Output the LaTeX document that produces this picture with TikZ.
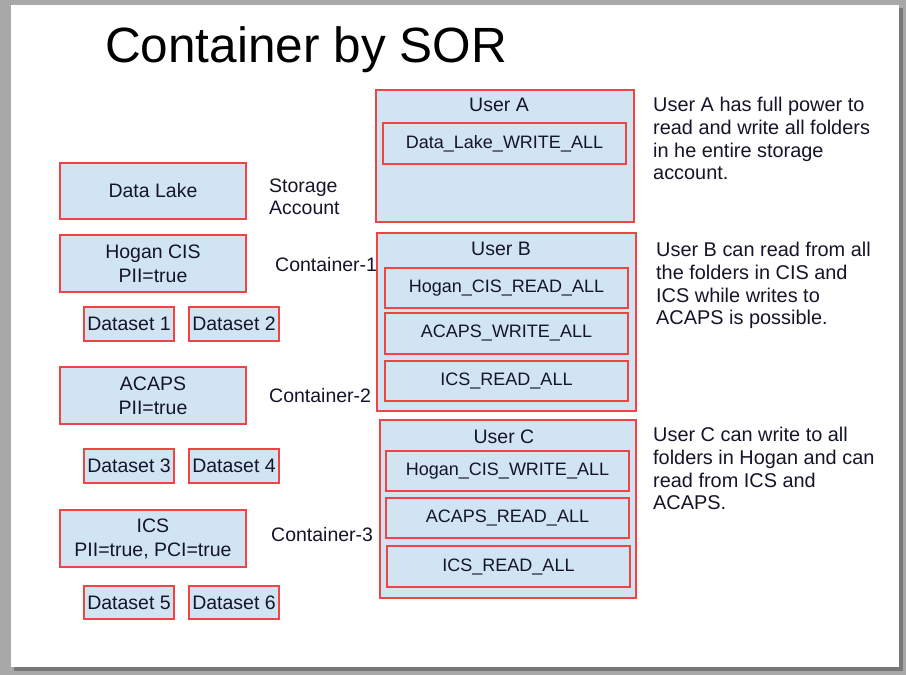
\documentclass[tikz,border=0pt]{standalone}
\usepackage{fontspec}
\setmainfont{Liberation Sans}
\definecolor{boxfill}{HTML}{D0E4F2}
\definecolor{boxdraw}{HTML}{EE4444}
\definecolor{txt}{HTML}{15152A}
\definecolor{bggray}{HTML}{A8A8A8}
\definecolor{shadowgray}{HTML}{787878}
\tikzset{
  bx/.style={draw=boxdraw, fill=boxfill, line width=1.6pt, inner sep=0pt, text=txt,
    font=\fontsize{19.5}{24}\selectfont, align=center},
  permbx/.style={bx, font=\fontsize{18}{22}\selectfont},
  lbl/.style={inner sep=0pt, text=txt, font=\fontsize{19.5}{22.5}\selectfont, align=left},
  desc/.style={inner sep=0pt, text=txt, font=\fontsize{19.9}{22.7}\selectfont, align=left, anchor=north west},
}
\newcommand{\bxat}[6]{% name, x1, y1, x2, y2, text
  \node[bx, minimum width=#4-#2, minimum height=#5-#3] (#1) at ({(#2+#4)/2},{(#3+#5)/2}) {#6};}
\newcommand{\pbxat}[6]{%
  \node[permbx, minimum width=#4-#2, minimum height=#5-#3] (#1) at ({(#2+#4)/2},{(#3+#5)/2}) {#6};}
\begin{document}
\begin{tikzpicture}[x=1pt,y=-1pt]
\fill[bggray] (0,0) rectangle (906,675);
\fill[shadowgray] (14,8) rectangle (903,671);
\fill[white] (11,5) rectangle (899,667);
\useasboundingbox (0,0) rectangle (906,675);

\node[inner sep=0pt, anchor=west, text=black, font=\fontsize{49.5}{55}\selectfont] (title) at (105,50) {Container by SOR};

% left column
\bxat{dl}{60}{163}{246}{219}{Data Lake}
\bxat{hogan}{60}{235}{246}{292}{Hogan CIS\\PII=true}
\bxat{ds1}{84}{307}{174}{341}{Dataset 1}
\bxat{ds2}{189}{307}{279}{341}{Dataset 2}
\bxat{acaps}{60}{367}{246}{424}{ACAPS\\PII=true}
\bxat{ds3}{84}{449}{174}{483}{Dataset 3}
\bxat{ds4}{189}{449}{279}{483}{Dataset 4}
\bxat{ics}{60}{510}{246}{567}{ICS\\PII=true, PCI=true}
\bxat{ds5}{84}{586}{174}{619}{Dataset 5}
\bxat{ds6}{189}{586}{279}{619}{Dataset 6}

\node[lbl, anchor=west] (sa) at (269,197) {Storage\\Account};
\node[lbl, anchor=west] (c1) at (275,265) {Container-1};
\node[lbl, anchor=west] (c2) at (269,396) {Container-2};
\node[lbl, anchor=west] (c3) at (271,535) {Container-3};

% users
\bxat{ua}{376}{90}{634}{222}{}
\node[lbl, anchor=center] (uat) at (499,105) {User A};
\pbxat{ua1}{383}{123}{626}{164}{Data\_Lake\_WRITE\_ALL}

\bxat{ub}{377}{233}{636}{411}{}
\node[lbl, anchor=center] (ubt) at (501,249) {User B};
\pbxat{ub1}{385}{268}{628}{308}{Hogan\_CIS\_READ\_ALL}
\pbxat{ub2}{385}{313}{628}{354}{ACAPS\_WRITE\_ALL}
\pbxat{ub3}{385}{361}{628}{401}{ICS\_READ\_ALL}

\bxat{uc}{380}{420}{636}{598}{}
\node[lbl, anchor=center] (uct) at (504,437) {User C};
\pbxat{uc1}{386}{451}{629}{491}{Hogan\_CIS\_WRITE\_ALL}
\pbxat{uc2}{386}{498}{629}{538}{ACAPS\_READ\_ALL}
\pbxat{uc3}{387}{546}{630}{587}{ICS\_READ\_ALL}

% descriptions
\node[desc] (da) at (653,97) {User A has full power to\\read and write all folders\\in he entire storage\\account.};
\node[desc] (db) at (656,242) {User B can read from all\\the folders in CIS and\\ICS while writes to\\ACAPS is possible.};
\node[desc] (dc) at (653,427) {User C can write to all\\folders in Hogan and can\\read from ICS and\\ACAPS.};
\end{tikzpicture}
\end{document}
